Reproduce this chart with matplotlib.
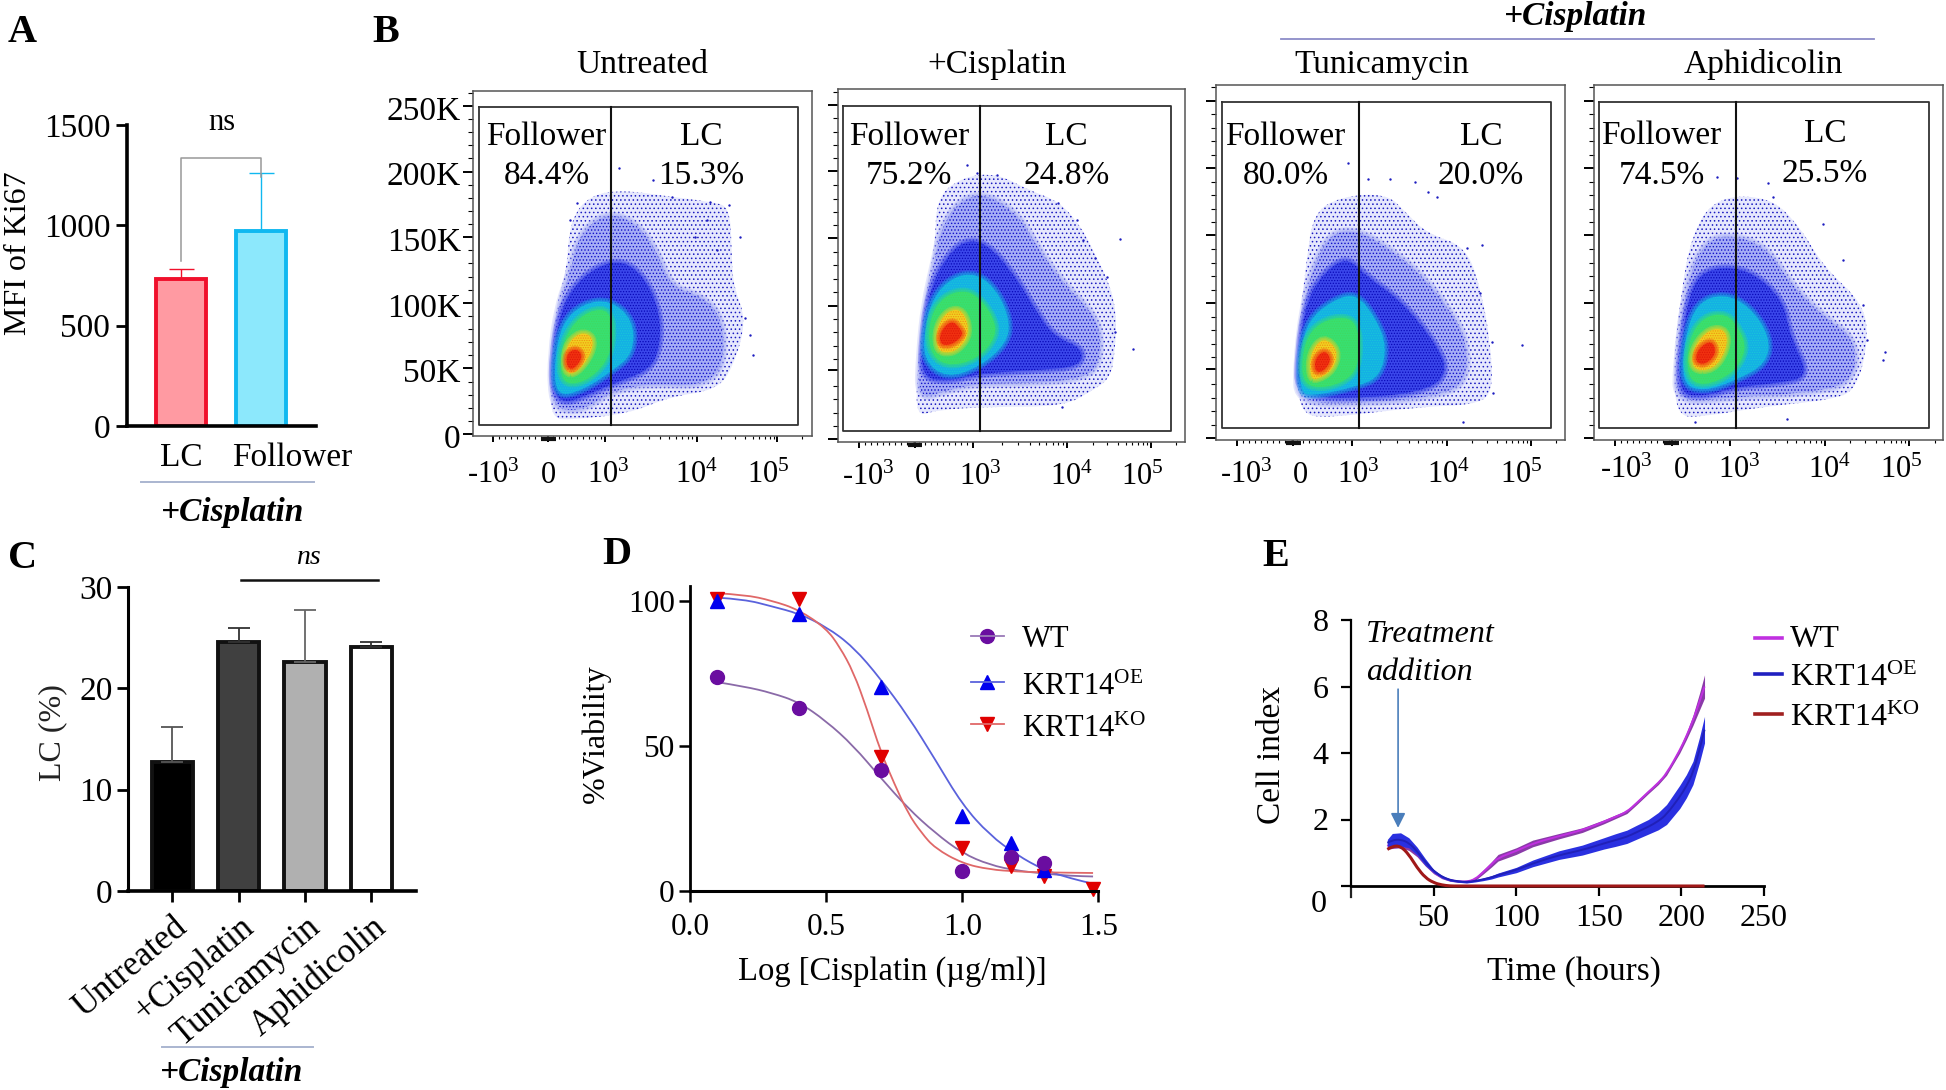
import numpy as np
import matplotlib
matplotlib.use("Agg")
from matplotlib import pyplot as plt
from matplotlib.path import Path
from matplotlib.patches import PathPatch
from matplotlib.transforms import ScaledTranslation

plt.rcParams['font.family'] = ['Liberation Serif', 'DejaVu Serif']
plt.rcParams['mathtext.fontset'] = 'custom'
plt.rcParams['mathtext.rm'] = 'Liberation Serif'
plt.rcParams['mathtext.it'] = 'Liberation Serif:italic'
plt.rcParams['mathtext.bf'] = 'Liberation Serif:bold'
plt.rcParams['hatch.linewidth'] = 0.6

W, H = 1946, 1090

# A
a_labels = ['LC', 'Follower']
a_values = [734, 972]
a_err = [46, 290]

# C
c_labels = ['Untreated', '+Cisplatin', 'Tunicamycin', 'Aphidicolin']
c_values = [12.7, 24.6, 22.6, 24.1]
c_err = [3.5, 1.4, 5.1, 0.5]

# D
d_x = [0.1, 0.4, 0.7, 1.0, 1.18, 1.3]
d_wt = [73.6, 62.9, 41.5, 6.9, 11.8, 9.8]
d_oe = [100, 95.4, 70.4, 25.7, 16.4, 7.2]
d_ko_x = [0.1, 0.4, 0.7, 1.0, 1.18, 1.3, 1.48]
d_ko = [100.5, 100.6, 46, 14.7, 8.5, 5.2, 0.6]

# D fit curves
fit_x = [0.1, 0.2, 0.3, 0.4, 0.5, 0.6, 0.7, 0.8, 0.9, 1.0, 1.1, 1.2, 1.3, 1.4, 1.48]
fit_wt = [71.9, 70.4, 68.2, 65, 58.5, 50, 39, 28.5, 20, 13, 9, 7, 6, 5.2, 5]
fit_oe = [101, 100.4, 98, 95.5, 91, 84, 73, 60.3, 45.3, 29.7, 19.3, 12.4, 7.2, 4.3, 2.5]
fit_ko_x = [0.1, 0.2, 0.3, 0.4, 0.5, 0.55, 0.6, 0.65, 0.7, 0.75, 0.8, 0.85, 0.9, 1.0, 1.1, 1.2, 1.3, 1.48]
fit_ko = [102.5, 102, 100, 96.8, 90.4, 84, 75.4, 62.6, 48, 37, 26.8, 20, 14.7, 9.5, 7.4, 6.7, 6.4, 6.2]

# E
e_time = [22, 25, 30, 35, 40, 45, 50, 55, 60, 65, 70, 75, 80, 85, 89, 100, 110, 126, 140, 153, 160, 167, 173, 180, 186, 191, 199, 203, 207, 211, 214]
e_wt = [1.2, 1.33, 1.35, 1.22, .98, .68, .42, .26, .17, .14, .13, .2, .42, .65, .85, 1.05, 1.28, 1.5, 1.68, 1.93, 2.08, 2.23, 2.5, 2.83, 3.1, 3.38, 4.08, 4.5, 4.98, 5.55, 6.0]
e_wt_sd = [.1, .2, .2, .15, .1, .08, .05, .04, .03, .03, .03, .04, .06, .08, .1, .1, .1, .08, .07, .06, .055, .05, .05, .05, .05, .05, .08, .1, .15, .25, .35]
e_oe = [1.3, 1.38, 1.4, 1.3, 1.05, .72, .45, .28, .18, .14, .12, .15, .2, .26, .33, .48, .68, .93, 1.08, 1.28, 1.38, 1.48, 1.62, 1.78, 1.95, 2.15, 2.68, 3.0, 3.4, 4.1, 4.7]
e_oe_sd = [.1, .2, .2, .15, .12, .1, .05, .04, .03, .03, .03, .03, .04, .05, .06, .08, .1, .13, .15, .17, .19, .2, .21, .22, .26, .3, .35, .35, .35, .38, .4]
e_ko = [1.1, 1.2, 1.2, .95, .55, .25, .1, .03, 0, 0, 0, 0, 0, 0, 0, 0, 0, 0, 0, 0, 0, 0, 0, 0, 0, 0, 0, 0, 0, 0, 0]

# B, density regions outlined by eye, from sparse (first) to the red core (last)
b1_levels = [
    [(550,1195),(540,1130),(545,1000),(560,850),(590,750),(600,600),(660,525),(760,510),(900,530),(1020,545),(1080,560),(1085,700),(1090,800),(1130,900),(1090,1040),(1040,1110),(900,1130),(780,1180),(600,1200)],
    [(545,1130),(545,1000),(565,860),(600,760),(625,650),(700,580),(790,600),(860,690),(900,800),(1000,830),(1060,900),(1060,1050),(980,1100),(850,1090),(730,1110),(640,1170),(570,1170)],
    [(548,1110),(550,1000),(570,880),(610,800),(680,740),(760,720),(830,780),(870,880),(870,980),(840,1050),(730,1090),(640,1130),(580,1150)],
    [(560,1130),(552,1030),(575,910),(640,850),(720,840),(790,900),(790,1000),(730,1050),(640,1110)],
    [(575,1090),(570,1000),(600,920),(660,870),(720,870),(730,950),(710,1030),(640,1090)],
    [(585,1060),(585,980),(630,935),(670,950),(665,1000),(620,1060)],
    [(590,1040),(590,1000),(620,985),(640,1010),(610,1050)],
]
b2_levels = [
    [(290,1190),(290,1080),(300,960),(320,800),(345,680),(350,530),(430,470),(530,460),(625,510),(720,545),(790,630),(830,715),(860,770),(890,870),(885,1000),(870,1075),(820,1110),(730,1160),(510,1160),(350,1170)],
    [(295,1140),(300,1000),(315,850),(345,720),(365,620),(420,540),(500,520),(600,590),(650,680),(730,790),(800,860),(840,920),(840,1030),(790,1075),(640,1090),(480,1090),(380,1110)],
    [(305,1070),(308,960),(325,830),(365,730),(430,660),(500,670),(580,760),(640,860),(700,950),(790,985),(780,1040),(650,1050),(480,1060),(380,1085)],
    [(310,1020),(315,920),(340,830),(400,770),(470,760),(530,810),(570,900),(560,970),(480,1040),(380,1075)],
    [(325,990),(330,890),(370,830),(430,810),(475,830),(520,890),(530,950),(470,1020),(375,1040)],
    [(350,985),(350,920),(385,870),(430,870),(450,940),(415,990),(375,1000)],
    [(360,975),(360,935),(395,900),(420,925),(430,945),(395,975)],
]
b3_levels = [
    [(300,1240),(290,1100),(300,950),(320,780),(340,640),(420,590),(560,580),(620,640),(680,700),(800,740),(845,880),(870,1020),(880,1180),(820,1215),(660,1220),(380,1255)],
    [(295,1210),(290,1100),(310,920),(340,800),(390,700),(470,690),(560,740),(660,820),(750,930),(800,1020),(800,1150),(700,1190),(500,1210)],
    [(295,1190),(295,1060),(320,900),(370,820),(440,770),(500,830),(600,900),(700,1020),(745,1110),(690,1170),(500,1195)],
    [(300,1170),(300,1060),(325,960),(400,900),(470,880),(530,960),(560,1040),(540,1130),(470,1160),(330,1190)],
    [(310,1155),(305,1070),(330,990),(400,950),(470,960),(480,1060),(460,1130),(380,1165)],
    [(330,1130),(330,1060),(370,1010),(415,1050),(400,1110),(350,1140)],
    [(345,1115),(345,1075),(375,1050),(395,1080),(370,1115)],
]
b4_levels = [
    [(320,1250),(310,1100),(330,900),(365,700),(440,590),(600,590),(690,680),(760,800),(880,910),(895,1020),(860,1170),(780,1200),(580,1220),(400,1250)],
    [(320,1210),(320,1090),(345,880),(390,740),(470,700),(590,740),(660,850),(760,950),(860,1020),(850,1150),(700,1180),(500,1190)],
    [(325,1180),(335,1020),(365,850),(430,800),(540,810),(640,900),(660,1010),(720,1130),(620,1150),(500,1160),(400,1190)],
    [(335,1150),(345,1010),(380,910),(460,880),(540,920),(600,1010),(590,1090),(500,1140),(400,1175)],
    [(350,1130),(355,1020),(400,950),(470,940),(510,990),(530,1050),(490,1120),(400,1160)],
    [(365,1110),(370,1040),(420,985),(470,990),(470,1050),(430,1110)],
    [(375,1085),(385,1045),(425,1020),(440,1060),(405,1095)],
]
# single events far from the cloud
b1_events = [(748,445),(848,480),(905,530),(1020,545),(1078,555),(1110,650),(1140,945),(1148,1005),(1125,895),(1010,600),(975,650),(1040,690),(620,550),(600,600)]
b2_events = [(900,658),(940,988),(885,937),(770,600),(725,1160),(440,435),(470,460),(715,548),(790,660),(825,715),(860,770),(530,465)]
b3_events = [(445,490),(505,537),(570,537),(645,545),(845,735),(875,1025),(965,1035),(878,1180),(788,1265),(685,575),(710,590),(800,745),(840,880)]
b4_events = [(440,530),(500,535),(595,550),(760,672),(820,780),(945,1055),(940,1080),(650,1258),(375,1265),(610,590),(880,915),(890,1020)]

b_titles = ['Untreated', '+Cisplatin', 'Tunicamycin', 'Aphidicolin']
b_follower = ['84.4%', '75.2%', '80.0%', '74.5%']
b_lc = ['15.3%', '24.8%', '20.0%', '25.5%']
b_ylabels = ['250K', '200K', '150K', '100K', '50K', '0']
b_xlabels = ['-10$^{3}$', '0', '10$^{3}$', '10$^{4}$', '10$^{5}$']
legend_names = ['WT', 'KRT14$^{\\mathrm{OE}}$', 'KRT14$^{\\mathrm{KO}}$']

level_face = ['#e6e8fd', '#a6adf6', '#3a46ea', '#14b0e4', '#38e070', '#f0d020', '#f03010']
level_edge = ['#1c1cc0', '#1010c8', '#0808b8', '#18c8d8', '#40d860', '#f09010', '#e01808']
level_hatch = ['....', '.....', '......', '.......', '.......', '.......', '.......']
level_blur = ['none', '#a6adf6', '#3a46ea', '#14b0e4', '#38e070', '#f0d020', '#f03010']

fig = plt.figure(figsize=(W / 100, H / 100), dpi=100)


def px_axes(left, top, right, bottom):
    return fig.add_axes([left / W, 1 - bottom / H, (right - left) / W, (bottom - top) / H])


def ftext(x, y, s, size=24, **kw):
    kw.setdefault('ha', 'center')
    kw.setdefault('va', 'center')
    return fig.text(x / W, 1 - (y + 2) / H, s, fontsize=size, **kw)


def fline(x0, x1, y0, y1, **kw):
    fig.add_artist(plt.Line2D([x0 / W, x1 / W], [1 - y0 / H, 1 - y1 / H], transform=fig.transFigure, **kw))


def nudge(labels, dx, dy):
    off = ScaledTranslation(dx / 100, -dy / 100, fig.dpi_scale_trans)
    for lab in labels:
        lab.set_transform(lab.get_transform() + off)


def blob(points):
    pts = np.array(points, dtype=float)
    mids = (pts + np.roll(pts, -1, axis=0)) / 2
    verts = [mids[-1]]
    codes = [Path.MOVETO]
    for p, m in zip(pts, mids):
        verts += [p, m]
        codes += [Path.CURVE3, Path.CURVE3]
    return Path(verts, codes)


def curve(ax, x, y, **kw):
    # the read points as control points of a curved path, so no corners show
    pts = np.column_stack([x, y]).astype(float)
    verts = [pts[0]]
    codes = [Path.MOVETO]
    for i in range(1, len(pts) - 1):
        verts += [pts[i], (pts[i] + pts[i + 1]) / 2]
        codes += [Path.CURVE3, Path.CURVE3]
    verts.append(pts[-1])
    codes.append(Path.LINETO)
    ax.add_patch(PathPatch(Path(verts, codes), facecolor='none', **kw))


def clean(ax):
    ax.spines['top'].set_visible(False)
    ax.spines['right'].set_visible(False)
    ax.patch.set_alpha(0)


# ---- A
ax = px_axes(127, 125, 316, 426)
clean(ax)
ax.set_xlim(-0.675, 1.6875)
ax.set_ylim(0, 1500)
a_edges = ['#f0102c', '#10b8f0']
a_faces = ['#ff9aa2', '#8ce8fc']
for i in range(2):
    ax.errorbar(i, a_values[i], yerr=[[0], [a_err[i]]], color=a_edges[i], lw=1, capsize=9, capthick=1)
    ax.bar(i, a_values[i], width=0.63, color=a_faces[i], edgecolor=a_edges[i], linewidth=2.8)
ax.plot([0, 0, 1, 1], [822, 1335, 1335, 1240], color='#999999', lw=1.1, clip_on=False)
ax.set_xticks([])
ax.set_yticks([0, 500, 1000, 1500])
ax.tick_params(axis='y', length=8, width=2, labelsize=24, pad=4)
ax.spines['left'].set_linewidth(2.6)
ax.spines['bottom'].set_linewidth(2.6)
ftext(222, 120, 'ns', size=22)
ftext(181, 456, a_labels[0])
ftext(292, 456, a_labels[1])
fline(141, 314, 482, 482, color='#aab6d0', lw=1.4)
ftext(233, 511, '+Cisplatin', fontweight='bold', style='italic')
ftext(19, 251, 'MFI of Ki67', size=23, rotation=90)

# ---- B
b_panels = [
    dict(ox=370, oy=20, frame=(310, 1325, 212, 1248), gate=(326, 1283, 262, 1216), div=724,
         yt=[258, 455, 652, 850, 1045, 1242], xt=[370, 535, 705, 980, 1222],
         xl=[370, 535, 715, 980, 1195], xly=1366, fol=(530, 350, 468), lc=(995, 350, 468),
         levels=b1_levels, events=b1_events, title=642),
    dict(ox=820, oy=20, frame=(55, 1095, 208, 1265), gate=(70, 1053, 258, 1232), div=479,
         yt=[255, 453, 655, 857, 1050, 1258], xt=[118, 285, 460, 742, 993],
         xl=[145, 308, 482, 755, 968], xly=1371, fol=(268, 350, 468), lc=(740, 350, 468),
         levels=b2_levels, events=b2_events, title=997),
    dict(ox=1200, oy=0, frame=(48, 1095, 255, 1320), gate=(65, 1053, 307, 1285), div=476,
         yt=[302, 503, 706, 910, 1108, 1315], xt=[110, 280, 456, 740, 993],
         xl=[138, 302, 475, 747, 965], xly=1426, fol=(257, 409, 528), lc=(843, 409, 528),
         levels=b3_levels, events=b3_events, title=1382),
    dict(ox=1570, oy=0, frame=(72, 1118, 255, 1320), gate=(88, 1078, 305, 1285), div=498,
         yt=[302, 503, 706, 910, 1108, 1315], xt=[135, 305, 480, 765, 1018],
         xl=[170, 333, 508, 780, 995], xly=1411, fol=(275, 407, 526), lc=(765, 400, 521),
         levels=b4_levels, events=b4_events, title=1763),
]

for n, p in enumerate(b_panels):
    fl, fr, ft, fb = p['frame']
    ax = px_axes(p['ox'] + fl / 3, p['oy'] + ft / 3, p['ox'] + fr / 3, p['oy'] + fb / 3)
    ax.set_xlim(fl, fr)
    ax.set_ylim(fb, ft)
    for poly, face, edge, hatch, soft in zip(p['levels'], level_face, level_edge, level_hatch, level_blur):
        shape = blob(poly)
        if soft != 'none':
            # wide see-through strokes soften the edge between two density levels
            for w in (6, 4, 2):
                ax.add_patch(PathPatch(shape, facecolor='none', edgecolor=soft, lw=w, alpha=0.3))
        ax.add_patch(PathPatch(shape, facecolor=face, edgecolor=edge, hatch=hatch, lw=0))
    ev = np.array(p['events'])
    ax.scatter(ev[:, 0], ev[:, 1], s=3, color='#1c1cc0', lw=0)

    gl, gr, gt, gb = p['gate']
    ax.plot([gl, gr, gr, gl, gl], [gt, gt, gb, gb, gt], color='#333333', lw=1.3)
    ax.plot([p['div'], p['div']], [gt, gb], color='#111111', lw=1.5)
    for sp in ax.spines.values():
        sp.set_color('#555555')
        sp.set_linewidth(1.1)

    yt = p['yt']
    ax.set_yticks(yt)
    step = (yt[-1] - yt[0]) / 25
    ax.set_yticks([yt[0] + k * step for k in range(-1, 26) if k % 5 != 0], minor=True)
    xt = p['xt']
    ax.set_xticks(xt)
    minor = list(np.arange(xt[0], xt[2], 18.0))
    minor += [xt[2] + np.log10(k) * (xt[3] - xt[2]) for k in range(2, 10)]
    minor += [xt[3] + np.log10(k) * (xt[4] - xt[3]) for k in range(2, 10)]
    minor += [xt[4] + np.log10(k) * (xt[4] - xt[3]) for k in (2, 3)]
    ax.set_xticks([m for m in minor if m < fr], minor=True)
    ax.plot([xt[1] - 22, xt[1] + 22], [fb + 10, fb + 10], color='#111111', lw=3, clip_on=False, solid_capstyle='butt')
    ax.tick_params(axis='x', which='major', length=4, width=1.4, labelbottom=False)
    ax.tick_params(axis='x', which='minor', length=2.5, width=0.8)
    ax.tick_params(axis='y', which='major', length=7, width=1.4, labelsize=24, pad=2)
    ax.tick_params(axis='y', which='minor', length=3.5, width=0.8)
    if n == 0:
        ax.set_yticklabels(b_ylabels)
        nudge(ax.get_yticklabels(), 0, 2)
    else:
        ax.set_yticklabels([])
    for lx, s in zip(p['xl'], b_xlabels):
        ax.text(lx, p['xly'], s, ha='center', va='center', fontsize=22, clip_on=False)
    ax.text(p['fol'][0], p['fol'][1], 'Follower', ha='center', va='center', fontsize=24)
    ax.text(p['fol'][0], p['fol'][2], b_follower[n], ha='center', va='center', fontsize=24)
    ax.text(p['lc'][0], p['lc'][1], 'LC', ha='center', va='center', fontsize=24)
    ax.text(p['lc'][0], p['lc'][2], b_lc[n], ha='center', va='center', fontsize=24)
    ftext(p['title'], 63, b_titles[n])

fline(1281, 1874, 38.5, 38.5, color='#8c8cc8', lw=1.3)
ftext(1576, 14, '+Cisplatin', fontweight='bold', style='italic')

# ---- C
ax = px_axes(128, 587, 416, 891)
clean(ax)
ax.set_xlim(-0.665, 3.67)
ax.set_ylim(0, 30)
c_faces = ['#000000', '#404040', '#b0b0b0', '#ffffff']
c_err_col = ['#555555', '#333333', '#666666', '#333333']
for i in range(4):
    ax.errorbar(i, c_values[i], yerr=[[0], [c_err[i]]], color=c_err_col[i], lw=1.3, capsize=8, capthick=1.3)
    ax.bar(i, c_values[i], width=0.62, color=c_faces[i], edgecolor='#111111', linewidth=2.8)
ax.set_xticks(range(4))
ax.set_xticklabels(c_labels, rotation=40, ha='right', rotation_mode='anchor', fontsize=25)
nudge(ax.get_xticklabels(), 7, 0)
ax.set_yticks([0, 10, 20, 30])
ax.tick_params(axis='y', length=8, width=2, labelsize=24, pad=3)
ax.tick_params(axis='x', length=8, width=2, pad=6)
ax.spines['left'].set_linewidth(2.2)
ax.spines['bottom'].set_linewidth(2.6)
fline(241, 378, 580, 580, color='#111111', lw=1.8)
ftext(308, 556, 'ns', size=20, style='italic')
fline(162, 313, 1047, 1047, color='#aab6d0', lw=1.4)
ftext(232, 1070, '+Cisplatin', fontweight='bold', style='italic')
ftext(53, 731, 'LC (%)', size=23, rotation=90, color='#222222')

# ---- D
ax = px_axes(690, 586, 1098.5, 891)
clean(ax)
ax.set_xlim(0, 1.5)
ax.set_ylim(0, 105)
curve(ax, fit_x, fit_wt, edgecolor='#8a6aa8', lw=1.3)
curve(ax, fit_x, fit_oe, edgecolor='#5a62dc', lw=1.3)
curve(ax, fit_ko_x, fit_ko, edgecolor='#e06868', lw=1.3)
ax.plot(d_ko_x, d_ko, 'v', color='#e00000', ms=10, clip_on=False, ls='none')
ax.plot(d_x, d_oe, '^', color='#0000ee', ms=10, clip_on=False, ls='none')
ax.plot(d_x, d_wt, 'o', color='#6a0da0', ms=10, clip_on=False, ls='none')
d_lines = ['#9a7ab8', '#5a62dc', '#e06868']
d_marks = ['#6a0da0', '#0000ee', '#e00000']
for name, line, mark, sym, ly, by in zip(legend_names, d_lines, d_marks, 'o^v', (636, 682, 724), (647, 695, 737)):
    fline(971, 1004, ly, ly, color=line, lw=1.3, marker='', zorder=3)
    fig.add_artist(plt.Line2D([987.5 / W], [1 - ly / H], transform=fig.transFigure, marker=sym,
                              color=mark, ms=10, ls='none'))
    fig.text(1022 / W, 1 - by / H, name, fontsize=22, va='baseline')
ax.set_xticks([0, 0.5, 1.0, 1.5])
ax.set_yticks([0, 50, 100])
ax.tick_params(axis='y', length=8, width=1.8, labelsize=22.5, pad=3)
ax.tick_params(axis='x', length=8, width=1.8, labelsize=22.5, pad=8)
ax.spines['left'].set_linewidth(2)
ax.spines['bottom'].set_linewidth(2.2)
ftext(892, 970, 'Log [Cisplatin (µg/ml)]', size=23.5)
ftext(596, 732, '%Viability', size=23, rotation=90)

# ---- E
ax = px_axes(1351, 620, 1764, 886)
clean(ax)
ax.set_xlim(0, 250)
ax.set_ylim(0, 8)
wt = np.array(e_wt)
wt_sd = np.array(e_wt_sd)
oe = np.array(e_oe)
oe_sd = np.array(e_oe_sd)
ax.fill_between(e_time, wt - wt_sd, wt + wt_sd, color='#8a3aa8', lw=0)
curve(ax, e_time, e_wt, edgecolor='#c030e0', lw=1.4)
ax.fill_between(e_time, oe - oe_sd, oe + oe_sd, color='#2a30e0', lw=0)
curve(ax, e_time, e_oe, edgecolor='#2020b8', lw=1.4)
curve(ax, e_time, e_ko, edgecolor='#a01818', lw=2.2, clip_on=False, zorder=5)
ax.plot([0, 0], [0, -0.33], color='#222222', lw=1.6, clip_on=False)
ax.annotate('', xy=(28.5, 1.75), xytext=(28.5, 5.92),
            arrowprops=dict(arrowstyle='-|>', color='#4a7ebb', lw=1.2, mutation_scale=22, shrinkA=0, shrinkB=0))
for name, col, ly, by in zip(legend_names, ('#c030e0', '#2020c0', '#a02020'), (638, 674, 714), (647, 686, 726)):
    fline(1755, 1782, ly, ly, color=col, lw=2.6)
    fig.text(1790 / W, 1 - by / H, name, fontsize=23, va='baseline')
ax.set_xticks([50, 100, 150, 200, 250])
ax.set_yticks([0, 2, 4, 6, 8])
ax.set_yticklabels(['', '2', '4', '6', '8'])
nudge(ax.get_yticklabels(), 0, 3)
ax.tick_params(axis='y', length=7, width=1.6, labelsize=23, pad=9)
ax.tick_params(axis='x', length=7, width=1.6, labelsize=23, pad=6)
ax.spines['left'].set_linewidth(1.6)
ax.spines['bottom'].set_linewidth(2)
ftext(1319, 903, '0', size=23)
ftext(1366, 632, 'Treatment', size=23, style='italic', ha='left')
ftext(1366, 671, 'addition', size=23, style='italic', ha='left')
ftext(1574, 970, 'Time (hours)', size=24)
ftext(1272, 753, 'Cell index', size=24, rotation=90)

# panel letters
for s, x, y in [('A', 22, 30), ('B', 386, 30), ('C', 23, 557), ('D', 617, 553), ('E', 1276, 555)]:
    ftext(x, y, s, size=29, fontweight='bold')

fig.savefig('out.png', dpi=100)
